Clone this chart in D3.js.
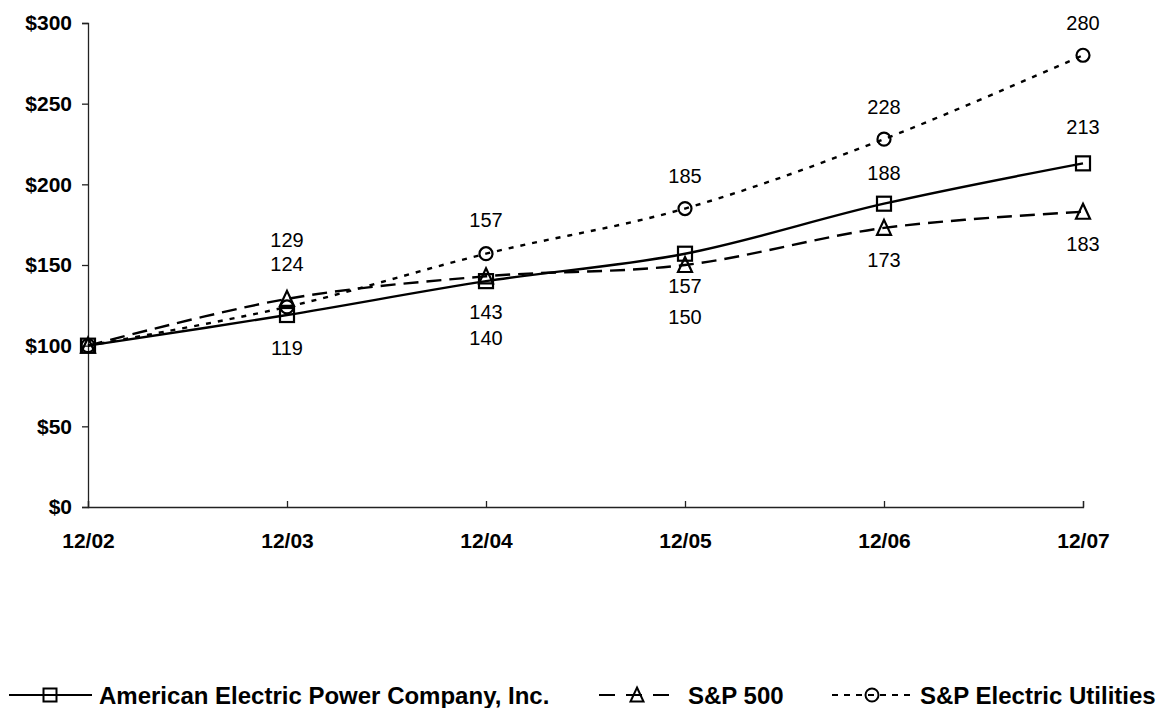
<!DOCTYPE html>
<html>
<head>
<meta charset="utf-8">
<script src="https://cdn.jsdelivr.net/npm/d3@7"></script>
<style>
  body { margin: 0; background: #fff; }
  svg { display: block; font-family: "Liberation Sans", Arial, sans-serif; }
</style>
</head>
<body>
<div id="chart"></div>
<script>
// data
const periods = ["12/02", "12/03", "12/04", "12/05", "12/06", "12/07"];
const aepValues = [100, 119, 140, 157, 188, 213];
const sp500Values = [100, 129, 143, 150, 173, 183];
const utilityValues = [100, 124, 157, 185, 228, 280];
const yTicks = [0, 50, 100, 150, 200, 250, 300];

// where each value label sits relative to its marker (px, + is below)
const aepLabelDy = [null, 33, 57, 32, -31, -36];
const sp500LabelDy = [null, -59, 36, 52, 32, 32];
const utilityLabelDy = [null, -43, -34, -33, -32, -32];

const series = [
  { name: "S&P Electric Utilities", values: utilityValues, labelDy: utilityLabelDy, dash: "5,7", shape: "circle" },
  { name: "S&P 500", values: sp500Values, labelDy: sp500LabelDy, dash: "15,8", shape: "triangle" },
  { name: "American Electric Power Company, Inc.", values: aepValues, labelDy: aepLabelDy, dash: null, shape: "square" }
];

const width = 1165, height = 708;
const plotLeft = 88, plotRight = 1083, plotTop = 23, plotBottom = 507;

const svg = d3.select("#chart").append("svg")
  .attr("width", width)
  .attr("height", height);

const x = d3.scalePoint().domain(periods).range([plotLeft, plotRight]);
const y = d3.scaleLinear().domain([0, 300]).range([plotBottom, plotTop]);

// y axis
const yAxis = svg.append("g")
  .attr("transform", "translate(" + plotLeft + ",0)")
  .call(d3.axisLeft(y).tickValues(yTicks).tickSize(6).tickPadding(10).tickFormat(d => "$" + d));
yAxis.select(".domain").attr("stroke", "#222").attr("stroke-width", 1.3);
yAxis.selectAll(".tick line").attr("stroke", "#222").attr("stroke-width", 1.3);
yAxis.selectAll("text").attr("font-size", 21).attr("font-weight", "bold").attr("fill", "#000");

// x axis, ticks pointing up into the plot
const xAxis = svg.append("g")
  .attr("transform", "translate(0," + plotBottom + ")")
  .call(d3.axisBottom(x).tickSize(-6).tickPadding(26));
xAxis.select(".domain").attr("stroke", "#222").attr("stroke-width", 1.3);
xAxis.selectAll(".tick line").attr("stroke", "#222").attr("stroke-width", 1.3);
xAxis.selectAll("text").attr("font-size", 21).attr("font-weight", "bold").attr("fill", "#000");

const line = d3.line()
  .x((d, i) => x(periods[i]))
  .y(d => y(d))
  .curve(d3.curveCatmullRom.alpha(0));

function drawMarker(g, shape, cx, cy, size) {
  const h = size / 2;
  if (shape === "square") {
    g.append("rect").attr("x", cx - h).attr("y", cy - h).attr("width", size).attr("height", size);
  } else if (shape === "circle") {
    g.append("circle").attr("cx", cx).attr("cy", cy).attr("r", h);
  } else {
    g.append("path").attr("d", "M" + cx + "," + (cy - h - 1) + "L" + (cx + h) + "," + (cy + h) + "L" + (cx - h) + "," + (cy + h) + "Z");
  }
  g.selectAll("rect, circle, path").attr("fill", "none").attr("stroke", "#000").attr("stroke-width", 2.2);
}

// lines
series.forEach(s => {
  svg.append("path")
    .datum(s.values)
    .attr("d", line)
    .attr("fill", "none")
    .attr("stroke", "#000")
    .attr("stroke-width", 2.4)
    .attr("stroke-dasharray", s.dash);
});

// markers
series.forEach(s => {
  const g = svg.append("g");
  s.values.forEach((v, i) => drawMarker(g, s.shape, x(periods[i]), y(v), s.shape === "circle" ? 13 : 14));
});

// value labels
series.forEach(s => {
  s.values.forEach((v, i) => {
    if (s.labelDy[i] === null) return;
    svg.append("text")
      .attr("x", x(periods[i]))
      .attr("y", y(v) + s.labelDy[i])
      .attr("text-anchor", "middle")
      .attr("dominant-baseline", "central")
      .attr("font-size", 20)
      .attr("fill", "#000")
      .text(v);
  });
});

// legend
const legendY = 695;
const legendItems = [
  { s: series[2], x0: 9, x1: 92, mid: 50, textX: 99, dash: null },
  { s: series[1], x0: 599, x1: 673, mid: 637, textX: 688, dash: "16,11" },
  { s: series[0], x0: 832, x1: 912, mid: 872, textX: 920, dash: "6,6" }
];
legendItems.forEach(item => {
  const g = svg.append("g");
  g.append("line").attr("x1", item.x0).attr("x2", item.x1).attr("y1", legendY).attr("y2", legendY)
    .attr("stroke", "#000").attr("stroke-width", 2.2).attr("stroke-dasharray", item.dash);
  const mg = g.append("g");
  drawMarker(mg, item.s.shape, item.mid, legendY, 13);
  mg.selectAll("rect, circle, path").attr("stroke-width", 2);
  svg.append("text")
    .attr("x", item.textX)
    .attr("y", legendY)
    .attr("dominant-baseline", "central")
    .attr("font-size", 24)
    .attr("font-weight", "bold")
    .text(item.s.name);
});
</script>
</body>
</html>
